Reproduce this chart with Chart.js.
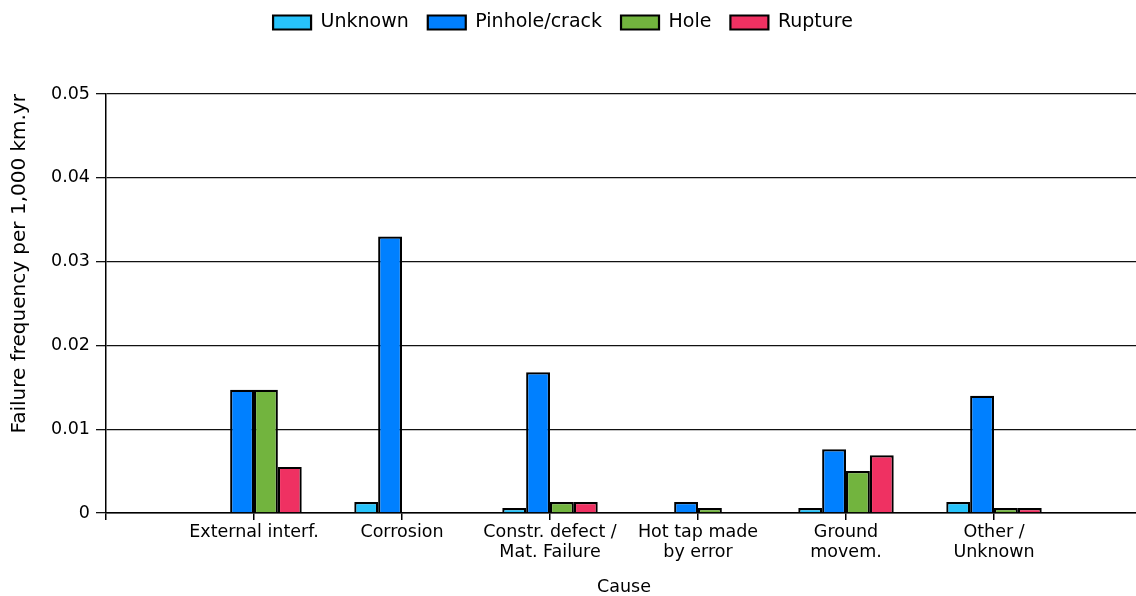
<!DOCTYPE html>
<html>
<head>
<meta charset="utf-8">
<script src="https://cdn.jsdelivr.net/npm/chart.js@4.4.1/dist/chart.umd.min.js"></script>
<style>
  html, body { margin: 0; padding: 0; background: #fff; overflow: hidden; }
  #wrap { width: 1136px; height: 596px; overflow: hidden; position: relative; }
  canvas { display: block; }
</style>
</head>
<body>
<div id="wrap"><canvas id="c" width="1144" height="596" style="width:1144px;height:596px"></canvas></div>
<script>
// Categories (empty slots at both ends give the axis margin seen in the reference)
const categories = ['', 'External interf.', 'Corrosion', ['Constr. defect /', 'Mat. Failure'], ['Hot tap made', 'by error'], ['Ground', 'movem.'], ['Other /', 'Unknown'], ''];
const seriesNames = ['Unknown', 'Pinhole/crack', 'Hole', 'Rupture'];
const unknownVals  = [null, null,   0.0013, 0.0006, null,   0.0006, 0.0013, null];
const pinholeVals  = [null, 0.0147, 0.0330, 0.0168, 0.0013, 0.0076, 0.0140, null];
const holeVals     = [null, 0.0147, null,   0.0013, 0.0006, 0.0050, 0.0006, null];
const ruptureVals  = [null, 0.0055, null,   0.0013, null,   0.0069, 0.0006, null];
const yTicks = [0, 0.01, 0.02, 0.03, 0.04, 0.05];
const yTitle = 'Failure frequency per 1,000 km.yr';
const xTitle = 'Cause';

const colors = ['#27c3fb', '#0080ff', '#72b43e', '#ef3162'];
const values = [unknownVals, pinholeVals, holeVals, ruptureVals];

const FONT = 'DejaVu Sans';

const legendTweak = {
  id: 'legendTweak',
  beforeInit(chart) {
    const lg = chart.legend;
    if (!lg) return;
    const origFit = lg.fit;
    lg.fit = function () {
      origFit.call(this);
      this.height = 94;
    };
  },
  afterLayout(chart) {
    const lg = chart.legend;
    if (!lg) return;
    lg.top -= 6; lg.bottom -= 6;
    lg.left -= 9; lg.right -= 9;
  }
};

new Chart(document.getElementById('c'), {
  type: 'bar',
  data: {
    labels: categories,
    datasets: seriesNames.map((name, i) => ({
      label: name,
      data: values[i],
      backgroundColor: colors[i],
      borderColor: '#000',
      borderWidth: 2.2,
      borderSkipped: 'start',
      categoryPercentage: 0.645,
      barPercentage: 1.0
    }))
  },
  options: {
    responsive: false,
    animation: false,
    devicePixelRatio: 1,
    layout: { padding: 0 },
    plugins: {
      legend: {
        position: 'top',
        labels: {
          font: { family: FONT, size: 19 },
          color: '#000',
          boxWidth: 38,
          boxHeight: 14,
          padding: 19
        }
      },
      tooltip: { enabled: false }
    },
    scales: {
      x: {
        type: 'category',
        offset: false,
        afterFit(scale) { scale.height = 83; },
        grid: { display: true, offset: false, drawOnChartArea: false, drawTicks: true, tickLength: 7, color: '#000', lineWidth: 1.5 },
        border: { display: true, color: '#000', width: 1.5 },
        ticks: {
          autoSkip: false,
          maxRotation: 0,
          minRotation: 0,
          padding: 2,
          color: '#000',
          font: { family: FONT, size: 17.5, lineHeight: 1.15 }
        },
        title: {
          display: true,
          text: xTitle,
          color: '#000',
          font: { family: FONT, size: 17.5, lineHeight: 1 },
          padding: { top: 0, bottom: 0 }
        }
      },
      y: {
        min: 0,
        max: 0.05,
        afterFit(scale) { scale.width = 106; },
        afterBuildTicks(scale) { scale.ticks = yTicks.map(v => ({ value: v })); },
        grid: { display: true, drawTicks: true, tickLength: 10, color: '#111', lineWidth: 1.3 },
        border: { display: true, color: '#000', width: 1.5 },
        ticks: {
          padding: 6,
          color: '#000',
          font: { family: FONT, size: 17.5 },
          callback: (v) => (v === 0 ? '0' : v.toFixed(2))
        },
        title: {
          display: true,
          text: yTitle,
          align: 'end',
          color: '#000',
          font: { family: FONT, size: 20, lineHeight: 1.2 },
          padding: { top: 8, bottom: 0 }
        }
      }
    }
  },
  plugins: [legendTweak]
});
</script>
</body>
</html>
